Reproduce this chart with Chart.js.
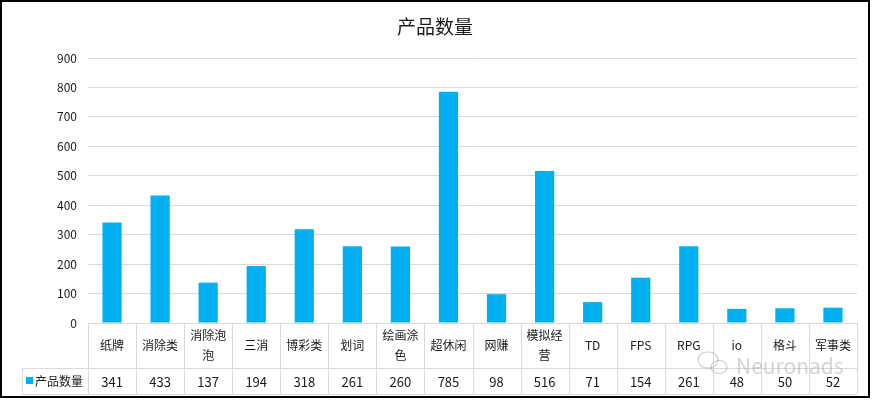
<!DOCTYPE html>
<html>
<head>
<meta charset="utf-8">
<script src="https://cdn.jsdelivr.net/npm/chart.js@4/dist/chart.umd.min.js"></script>
<style>
  html, body { margin: 0; padding: 0; background: #fff; }
  #wrap { position: relative; width: 872px; height: 401px; }
  canvas { display: block; }
</style>
</head>
<body>
<div id="wrap"><canvas id="c" width="872" height="401"></canvas></div>
<script>
const chartTitle = '产品数量';
const seriesName = '产品数量';
const categories = ['纸牌', '消除类', '消除泡泡', '三消', '博彩类', '划词', '绘画涂色', '超休闲', '网赚', '模拟经营', 'TD', 'FPS', 'RPG', 'io', '格斗', '军事类'];
const categoryLines = [['纸牌'], ['消除类'], ['消除泡', '泡'], ['三消'], ['博彩类'], ['划词'], ['绘画涂', '色'], ['超休闲'], ['网赚'], ['模拟经', '营'], ['TD'], ['FPS'], ['RPG'], ['io'], ['格斗'], ['军事类']];
const values = [341, 433, 137, 194, 318, 261, 260, 785, 98, 516, 71, 154, 261, 48, 50, 52];
const yMin = 0, yMax = 900, yStep = 100;

const FONT = '"Noto Sans CJK SC", "Microsoft YaHei", sans-serif';
const BAR = '#00B0F0';
const GRID = '#d9d9d9';

const tablePlugin = {
  id: 'tablePlugin',
  afterDraw(chart) {
    const ctx = chart.ctx;
    const x = chart.scales.x;
    const area = chart.chartArea;
    const n = categories.length;
    const w = (area.right - area.left) / n;
    const top = area.bottom;
    const mid = top + 45;
    const bot = top + 71;
    const legLeft = 22;
    ctx.save();
    // title
    ctx.fillStyle = '#1a1a1a';
    ctx.font = '19px ' + FONT;
    ctx.textAlign = 'center';
    ctx.textBaseline = 'middle';
    ctx.fillText(chartTitle, 435, 27);
    // table lines
    ctx.strokeStyle = GRID;
    ctx.lineWidth = 1;
    ctx.beginPath();
    ctx.moveTo(legLeft, mid + 0.5); ctx.lineTo(area.right, mid + 0.5);
    ctx.moveTo(legLeft, bot + 0.5); ctx.lineTo(area.right, bot + 0.5);
    ctx.moveTo(legLeft + 0.5, mid); ctx.lineTo(legLeft + 0.5, bot);
    for (let i = 0; i <= n; i++) {
      const px = Math.round(area.left + i * w) + 0.5;
      ctx.moveTo(px, top); ctx.lineTo(px, bot);
    }
    ctx.stroke();
    // category labels
    ctx.fillStyle = '#1a1a1a';
    ctx.textAlign = 'center';
    ctx.textBaseline = 'middle';
    for (let i = 0; i < n; i++) {
      const cx = x.getPixelForValue(i);
      const lines = categoryLines[i];
      const cy = (top + mid) / 2;
      ctx.font = '12px ' + FONT;
      if (lines.length === 1) {
        ctx.fillText(lines[0], cx, cy);
      } else {
        ctx.fillText(lines[0], cx, cy - 10);
        ctx.fillText(lines[1], cx, cy + 10);
      }
      ctx.font = '13px ' + FONT;
      ctx.fillText(String(values[i]), cx, (mid + bot) / 2 + 1);
    }
    // legend cell
    ctx.fillStyle = BAR;
    ctx.fillRect(26, (mid + bot) / 2 - 4, 7, 7);
    ctx.fillStyle = '#1a1a1a';
    ctx.textAlign = 'left';
    ctx.font = '12px ' + FONT;
    ctx.fillText(seriesName, 35, (mid + bot) / 2);
    // watermark
    ctx.fillStyle = 'rgba(160,160,160,0.45)';
    ctx.font = '21px ' + FONT;
    ctx.textAlign = 'left';
    ctx.fillText('Neuronads', 736, 366);
    ctx.strokeStyle = 'rgba(160,160,160,0.5)';
    ctx.lineWidth = 1.2;
    ctx.beginPath();
    ctx.ellipse(708, 360, 10, 8, 0, 0, Math.PI * 2);
    ctx.stroke();
    ctx.beginPath();
    ctx.ellipse(719, 367, 8, 6.5, 0, 0, Math.PI * 2);
    ctx.stroke();
    // border
    ctx.strokeStyle = '#000';
    ctx.lineWidth = 2;
    ctx.strokeRect(1, 1, 868, 396);
    ctx.restore();
  }
};

new Chart(document.getElementById('c'), {
  type: 'bar',
  data: {
    labels: categories,
    datasets: [{
      label: seriesName,
      data: values,
      backgroundColor: BAR,
      borderWidth: 0,
      categoryPercentage: 1,
      barPercentage: 0.4
    }]
  },
  options: {
    responsive: false,
    animation: false,
    devicePixelRatio: 1,
    layout: { padding: { top: 58, right: 15, bottom: 78, left: 0 } },
    plugins: { legend: { display: false }, title: { display: false }, tooltip: { enabled: false } },
    scales: {
      x: { display: false },
      y: {
        min: yMin, max: yMax,
        afterFit(s) { s.width = 88; },
        ticks: { stepSize: yStep, padding: 11, color: '#1a1a1a', font: { family: FONT, size: 12 } },
        grid: { color: GRID, drawTicks: false },
        border: { display: false }
      }
    }
  },
  plugins: [tablePlugin]
});
</script>
</body>
</html>
